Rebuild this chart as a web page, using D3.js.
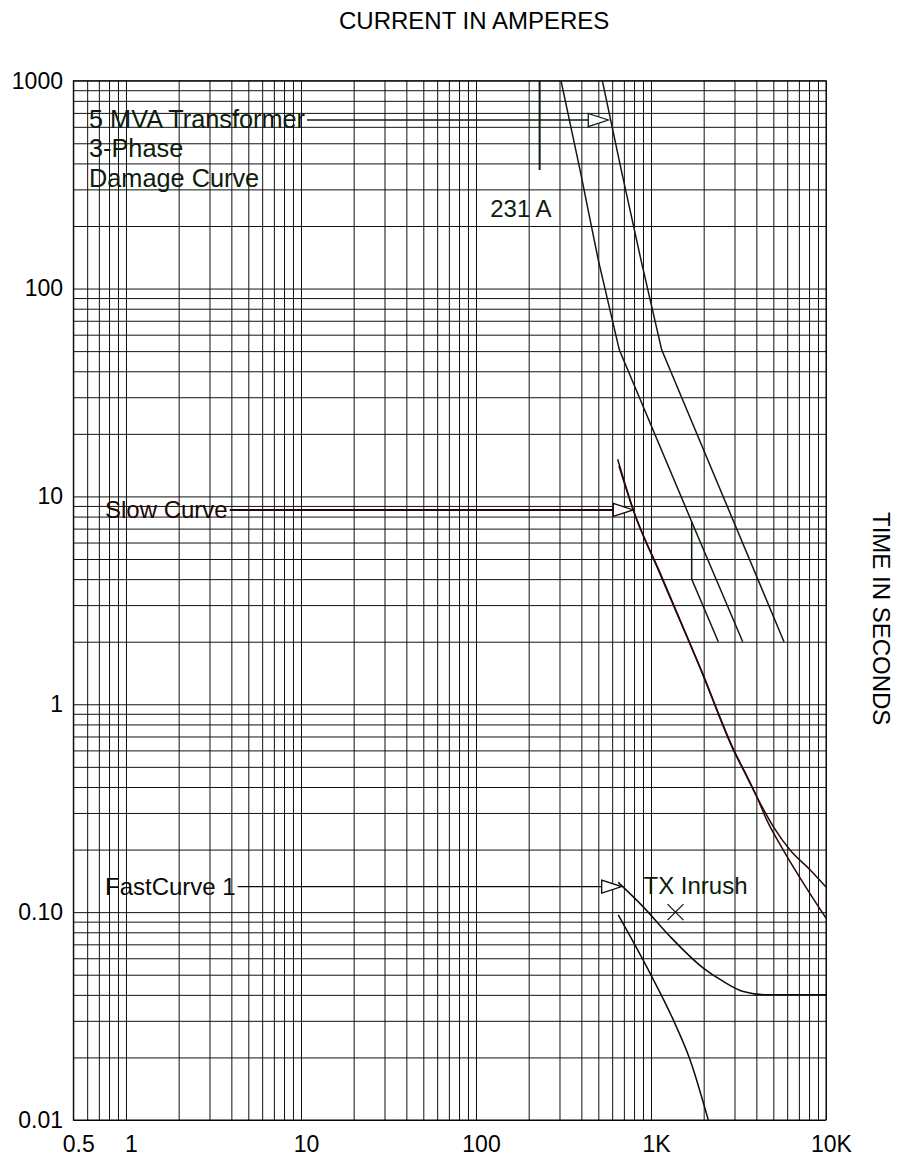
<!DOCTYPE html>
<html><head><meta charset="utf-8">
<script src="https://cdn.jsdelivr.net/npm/d3@7"></script>
<style>
body{margin:0;background:#fff}
svg{display:block}
text{font-family:"Liberation Sans",Arial,Helvetica,sans-serif}
</style>
</head><body>
<svg id="chart" width="901" height="1159"></svg>
<script>
// ---- tick labels ----
const xTickValues = [0.5, 1, 10, 100, 1000, 10000];
const xTickLabels = ["0.5", "1", "10", "100", "1K", "10K"];
const yTickValues = [0.01, 0.1, 1, 10, 100, 1000];
const yTickLabels = ["0.01", "0.10", "1", "10", "100", "1000"];

// ---- curves: [current A, time s] ----
const damageCurveA = [[306,1000],[393,372],[500,137],[659,50.7],[1708,7.56],[3342,2.0]];
const damageCurveShift = [[1708,7.56],[1708,4.0],[2424,2.0]];
const damageCurveB = [[527,1000],[676,372],[877,137],[1151,50.7],[5754,2.0]];
const slowCurve1 = [[645,15.1],[792,8.61],[1126,4.24],[1931,1.46],[2953,0.603],[3524,0.449],[4018,0.36],[5000,0.258],[6229,0.199],[8102,0.160],[10000,0.132]];
const slowCurve2 = [[656,14.0],[800,8.4],[1140,4.2],[1950,1.44],[2980,0.6],[3560,0.445],[4030,0.357],[4583,0.278],[5702,0.199],[7420,0.138],[10000,0.0936]];
const fastCurve1 = [[650,0.139],[903,0.106],[1285,0.0763],[1990,0.0538],[2589,0.0464],[3368,0.0415],[4581,0.040],[10000,0.040]];
const fastCurve2 = [[650,0.097],[987,0.0509],[1341,0.0303],[1671,0.0195],[2125,0.01]];

// ---- markers / annotations ----
const flaCurrent = 231;
const flaSpan = [372, 1000];
const flaLabel = "231 A";
const inrushPoint = [1380, 0.1];
const inrushLabel = "TX Inrush";
const annotationTexts = [["5 MVA Transformer","3-Phase","Damage Curve"],["Slow Curve"],["FastCurve 1"]];
const annotationTips = [[570,647],[792,8.61],[680,0.1327]];

// ---- layout ----
const W = 901, H = 1159;
const P = {left:73.3, right:826, top:80.7, bottom:1120};
const x = d3.scaleLog().domain([0.5, 10000]).range([P.left, P.right]);
const y = d3.scaleLog().domain([0.01, 1000]).range([P.bottom, P.top]);
const svg = d3.select("#chart");
svg.append("rect").attr("width", W).attr("height", H).attr("fill", "#fff");

const tickFont = 23, labFont = 24;

// x axis with grid
const xAxis = d3.axisBottom(x)
  .tickValues(x.ticks())
  .tickSize(-(P.bottom - P.top))
  .tickSizeOuter(0)
  .tickPadding(16)
  .tickFormat(d => { const i = xTickValues.findIndex(v => Math.abs(v - d) / d < 1e-9); return i >= 0 ? xTickLabels[i] : ""; });
const gx = svg.append("g").attr("transform", `translate(0,${P.bottom})`).call(xAxis);
gx.select(".domain").remove();
gx.selectAll("line").attr("stroke", "#111").attr("stroke-width", 1);
gx.selectAll("text").attr("font-size", tickFont).attr("font-family", "Liberation Sans, Arial, sans-serif").attr("fill", "#000").attr("dx", 5);

// y axis with grid
const yAxis = d3.axisLeft(y)
  .tickValues(y.ticks())
  .tickSize(-(P.right - P.left))
  .tickSizeOuter(0)
  .tickPadding(10.3)
  .tickFormat(d => { const i = yTickValues.findIndex(v => Math.abs(v - d) / d < 1e-9); return i >= 0 ? yTickLabels[i] : ""; });
const gy = svg.append("g").attr("transform", `translate(${P.left},0)`).call(yAxis);
gy.select(".domain").remove();
gy.selectAll("line").attr("stroke", "#111").attr("stroke-width", 1);
gy.selectAll("text").attr("font-size", tickFont).attr("font-family", "Liberation Sans, Arial, sans-serif").attr("fill", "#000");

// frame
svg.append("rect").attr("x", P.left).attr("y", P.top).attr("width", P.right - P.left).attr("height", P.bottom - P.top)
  .attr("fill", "none").attr("stroke", "#000").attr("stroke-width", 1);

// axis titles
svg.append("text").attr("x", 339).attr("y", 29).attr("font-size", labFont).attr("fill", "#000").text("CURRENT IN AMPERES");
svg.append("text").attr("transform", "translate(873,512) rotate(90)").attr("font-size", labFont).attr("fill", "#000").text("TIME IN SECONDS");

// clip
svg.append("clipPath").attr("id", "clip").append("rect")
  .attr("x", P.left).attr("y", P.top).attr("width", P.right - P.left).attr("height", P.bottom - P.top);
const plot = svg.append("g").attr("clip-path", "url(#clip)");

const linLine = d3.line().x(d => x(d[0])).y(d => y(d[1]));
const smoothLine = d3.line().x(d => x(d[0])).y(d => y(d[1])).curve(d3.curveMonotoneX);

const damageColor = "#0c1d0c", slowColor = "#2a0808", fastColor = "#140808";
[damageCurveA, damageCurveShift, damageCurveB].forEach(c =>
  plot.append("path").attr("d", linLine(c)).attr("fill", "none").attr("stroke", damageColor).attr("stroke-width", 1.5));
[slowCurve1, slowCurve2].forEach(c =>
  plot.append("path").attr("d", smoothLine(c)).attr("fill", "none").attr("stroke", slowColor).attr("stroke-width", 1.5));
[fastCurve1, fastCurve2].forEach(c =>
  plot.append("path").attr("d", smoothLine(c)).attr("fill", "none").attr("stroke", fastColor).attr("stroke-width", 1.5));

// FLA line
plot.append("line").attr("x1", x(flaCurrent)).attr("x2", x(flaCurrent))
  .attr("y1", y(flaSpan[0])).attr("y2", y(flaSpan[1])).attr("stroke", damageColor).attr("stroke-width", 2);
svg.append("text").attr("x", x(flaCurrent) + 12).attr("y", y(flaSpan[0]) + 47)
  .attr("text-anchor", "end").attr("font-size", labFont).attr("fill", damageColor).text(flaLabel);

// inrush marker
const ix = x(inrushPoint[0]), iy = y(inrushPoint[1]);
svg.append("path").attr("d", `M${ix-8},${iy-8}L${ix+8},${iy+8}M${ix-8},${iy+8}L${ix+8},${iy-8}`)
  .attr("stroke", damageColor).attr("stroke-width", 1.3).attr("fill", "none");
svg.append("text").attr("x", ix - 32).attr("y", iy - 18).attr("font-size", labFont).attr("fill", damageColor).text(inrushLabel);

// annotations with arrows
const labelX = [89, 105, 105];
const annFont = [25.3, 24, 24];
const annColors = [damageColor, "#1e0707", "#0a0a0a"];
const arrowW = [1.3, 2, 1.3];
annotationTexts.forEach((lines, k) => {
  const tx = x(annotationTips[k][0]), ty = y(annotationTips[k][1]);
  const t = svg.append("text").attr("x", labelX[k]).attr("y", ty + 8).attr("font-size", annFont[k]).attr("fill", annColors[k]);
  lines.forEach((s, i) => t.append("tspan").attr("x", labelX[k]).attr("dy", i === 0 ? 0 : 29.3).text(s));
  const endX = labelX[k] + t.select("tspan").node().getComputedTextLength() + 2;
  svg.append("line").attr("x1", endX).attr("x2", tx - 20).attr("y1", ty).attr("y2", ty)
    .attr("stroke", annColors[k]).attr("stroke-width", arrowW[k]);
  svg.append("path").attr("d", `M${tx-20},${ty-6.5}L${tx},${ty}L${tx-20},${ty+6.5}Z`)
    .attr("fill", "#fff").attr("stroke", annColors[k]).attr("stroke-width", 1.3);
});
</script>
</body></html>
